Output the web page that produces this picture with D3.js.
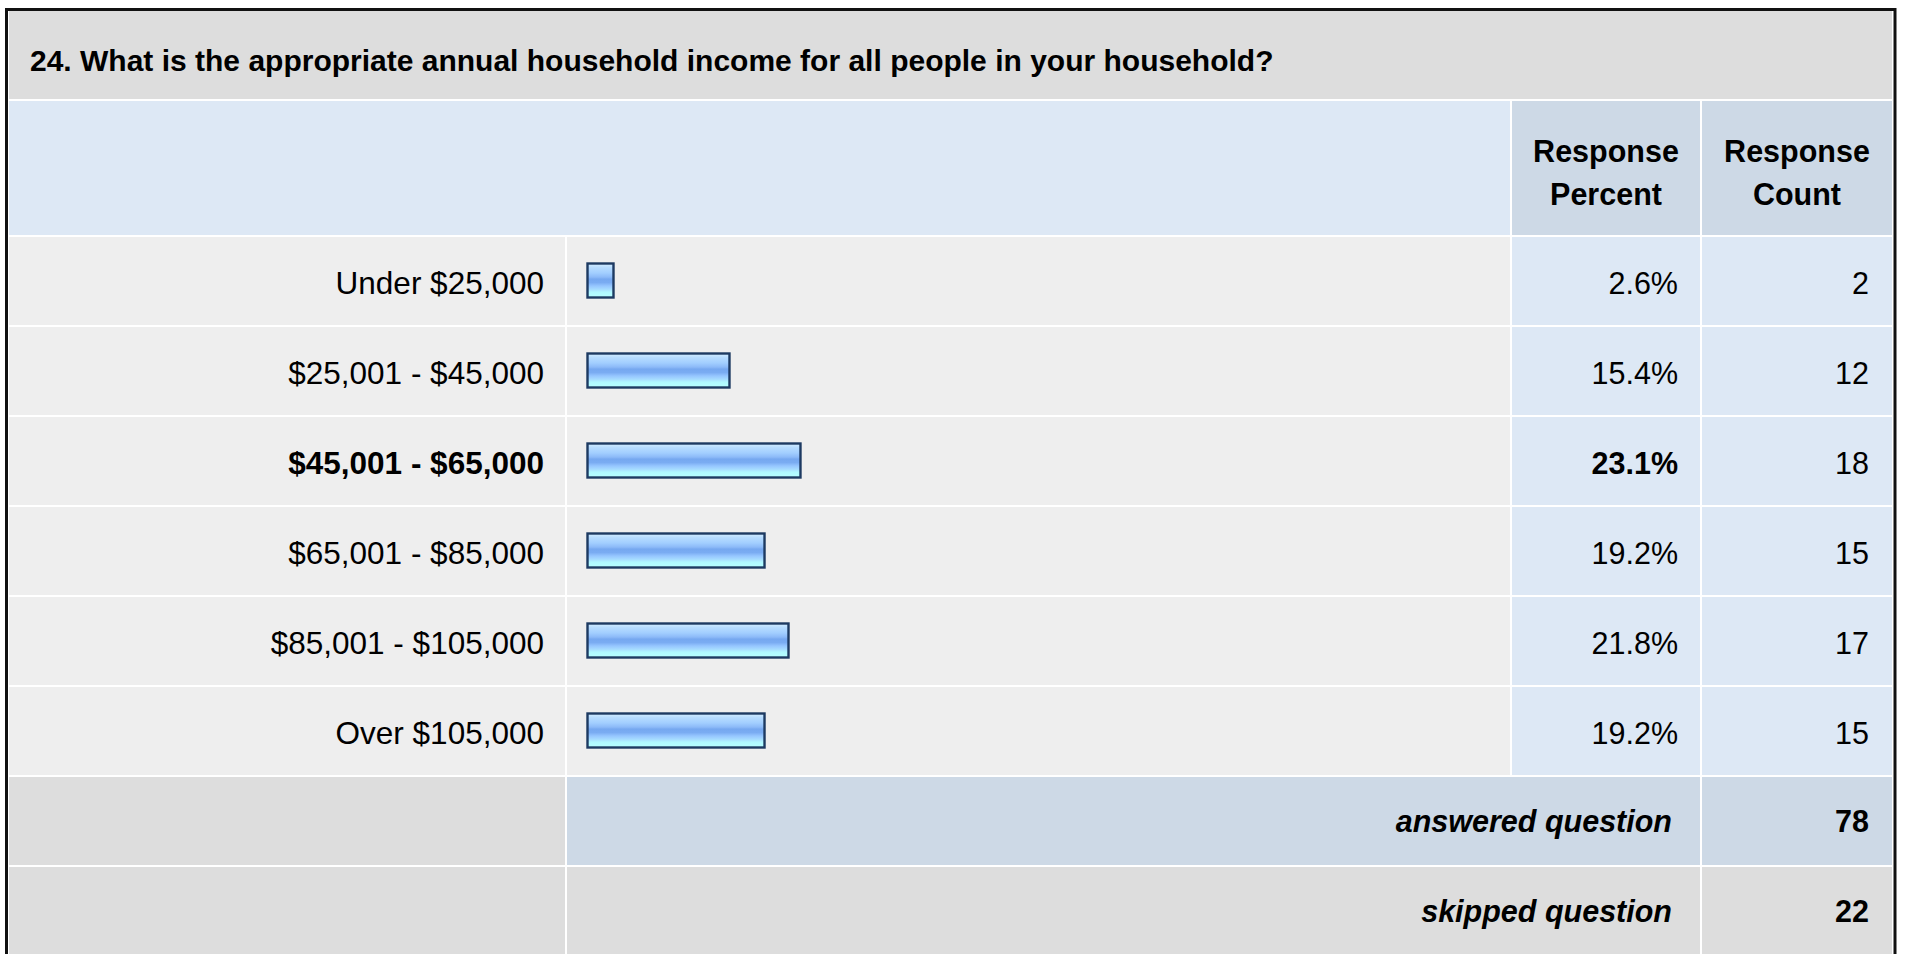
<!DOCTYPE html>
<html>
<head>
<meta charset="utf-8">
<script src="https://cdn.jsdelivr.net/npm/d3@7"></script>
<style>
  html, body { margin: 0; padding: 0; background: #ffffff; overflow: hidden; }
  svg { display: block; font-family: "Liberation Sans", Arial, Helvetica, sans-serif; }
</style>
</head>
<body>
<script>
// ---- data ----
const questionTitle = "24. What is the appropriate annual household income for all people in your household?";
const headerLabels = [["Response", "Percent"], ["Response", "Count"]];
const categories = ["Under $25,000", "$25,001 - $45,000", "$45,001 - $65,000", "$65,001 - $85,000", "$85,001 - $105,000", "Over $105,000"];
const percents = [2.6, 15.4, 23.1, 19.2, 21.8, 19.2];
const counts = [2, 12, 18, 15, 17, 15];
const summaryLabels = ["answered question", "skipped question"];
const summaryValues = [78, 22];

// ---- layout ----
const W = 1907, H = 954;
const FS = 30.5, FSL = 31.5;
const colLabel = [9, 565], colBar = [567, 1510], colPct = [1512, 1700], colCnt = [1702, 1892];
const titleRow = [11, 99], headerRow = [101, 235];
const C = {
  title: "#dddddd", headBlue: "#dde8f5", headCell: "#cdd9e6",
  rowGray: "#eeeeee", rowBlue: "#dde8f5", sumBlue: "#cdd9e6", sumGray: "#dddddd"
};

const svg = d3.select("body").append("svg").attr("width", W).attr("height", H);

// gradient for bars
const defs = svg.append("defs");
const grad = defs.append("linearGradient").attr("id", "barGrad").attr("x1", 0).attr("y1", 0).attr("x2", 0).attr("y2", 1);
[[0, "#d6eeff"], [0.12, "#b6dcff"], [0.28, "#a2ceff"], [0.4, "#8cbaf8"], [0.46, "#76a8f0"], [0.56, "#7aacf2"], [0.66, "#96c6ff"], [0.76, "#a6dcff"], [0.84, "#b0f8ff"], [1, "#b6ffff"]]
  .forEach(([o, c]) => grad.append("stop").attr("offset", o).attr("stop-color", c));

// outer frame
svg.append("rect").attr("x", 6.5).attr("y", 9.5).attr("width", 1888.5).attr("height", H + 20)
  .attr("fill", "none").attr("stroke", "#111").attr("stroke-width", 3);

// title row
svg.append("rect").attr("x", colLabel[0]).attr("y", titleRow[0]).attr("width", colCnt[1] - colLabel[0]).attr("height", titleRow[1] - titleRow[0]).attr("fill", C.title);
svg.append("text").attr("x", 30).attr("y", 71).attr("font-size", 30).attr("font-weight", "bold").attr("fill", "#000").text(questionTitle);

// header row
svg.append("rect").attr("x", colLabel[0]).attr("y", headerRow[0]).attr("width", colBar[1] - colLabel[0]).attr("height", headerRow[1] - headerRow[0]).attr("fill", C.headBlue);
[colPct, colCnt].forEach((col, i) => {
  svg.append("rect").attr("x", col[0]).attr("y", headerRow[0]).attr("width", col[1] - col[0]).attr("height", headerRow[1] - headerRow[0]).attr("fill", C.headCell);
  const t = svg.append("text").attr("text-anchor", "middle").attr("font-size", FS).attr("font-weight", "bold").attr("fill", "#000");
  headerLabels[i].forEach((s, j) => t.append("tspan").attr("x", (col[0] + col[1]) / 2).attr("y", 162 + j * 43).text(s));
});

// scales
const y = d3.scaleBand().domain(categories).range([237, 777]);
const x = d3.scaleLinear().domain([0, 100]).range([588, 1510]);
const maxP = d3.max(percents);

const rows = svg.append("g").selectAll("g").data(categories).join("g")
  .attr("transform", d => `translate(0,${y(d)})`);
const rh = y.bandwidth() - 2;
rows.append("rect").attr("x", colLabel[0]).attr("width", colLabel[1] - colLabel[0]).attr("height", rh).attr("fill", C.rowGray);
rows.append("rect").attr("x", colBar[0]).attr("width", colBar[1] - colBar[0]).attr("height", rh).attr("fill", C.rowGray);
rows.append("rect").attr("x", colPct[0]).attr("width", colPct[1] - colPct[0]).attr("height", rh).attr("fill", C.rowBlue);
rows.append("rect").attr("x", colCnt[0]).attr("width", colCnt[1] - colCnt[0]).attr("height", rh).attr("fill", C.rowBlue);

const isMax = (i) => percents[i] === maxP;
rows.append("text").attr("x", 544).attr("y", rh / 2 + 13).attr("text-anchor", "end").attr("font-size", FSL)
  .attr("font-weight", (d, i) => isMax(i) ? "bold" : "normal").attr("fill", "#000").text(d => d);

// bars
const barH = 36;
rows.append("rect").attr("x", x(0) - 0.5).attr("y", (rh - barH) / 2 + 0.5)
  .attr("width", (d, i) => Math.max(x(percents[i]) - x(0) + 2, 28) - 2)
  .attr("height", barH - 2)
  .attr("fill", "url(#barGrad)").attr("stroke", "#1d3a62").attr("stroke-width", 2.4);

rows.append("text").attr("x", 1678).attr("y", rh / 2 + 13).attr("text-anchor", "end").attr("font-size", FS)
  .attr("font-weight", (d, i) => isMax(i) ? "bold" : "normal").attr("fill", "#000")
  .text((d, i) => d3.format(".1f")(percents[i]) + "%");
rows.append("text").attr("x", 1869).attr("y", rh / 2 + 13).attr("text-anchor", "end").attr("font-size", FS)
  .attr("fill", "#000").text((d, i) => counts[i]);

// summary rows
const sy = [777, 867];
summaryLabels.forEach((lab, i) => {
  const top = sy[i], h = 88;
  const mid = i === 0 ? C.sumBlue : C.sumGray;
  svg.append("rect").attr("x", colLabel[0]).attr("y", top).attr("width", colLabel[1] - colLabel[0]).attr("height", h).attr("fill", C.sumGray);
  svg.append("rect").attr("x", colBar[0]).attr("y", top).attr("width", colPct[1] - colBar[0]).attr("height", h).attr("fill", mid);
  svg.append("rect").attr("x", colCnt[0]).attr("y", top).attr("width", colCnt[1] - colCnt[0]).attr("height", h).attr("fill", mid);
  svg.append("text").attr("x", 1672).attr("y", top + h / 2 + 11).attr("text-anchor", "end").attr("font-size", FS)
    .attr("font-weight", "bold").attr("font-style", "italic").attr("fill", "#000").text(lab);
  svg.append("text").attr("x", 1869).attr("y", top + h / 2 + 11).attr("text-anchor", "end").attr("font-size", FS)
    .attr("font-weight", "bold").attr("fill", "#000").text(summaryValues[i]);
});
</script>
</body>
</html>
